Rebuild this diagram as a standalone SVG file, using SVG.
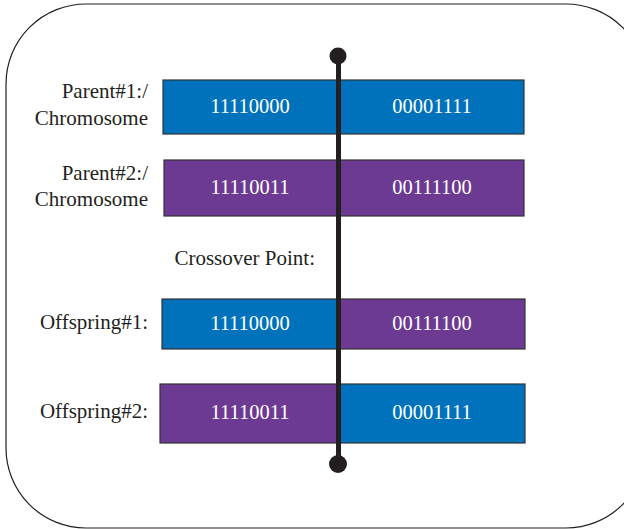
<svg xmlns="http://www.w3.org/2000/svg" width="624" height="529" viewBox="0 0 624 529">
  <style>
    .frame { fill: #ffffff; stroke: #231f20; stroke-width: 1.2; }
    .blue { fill: #0072bc; stroke: #333333; stroke-width: 1.2; }
    .purple { fill: #6d3a93; stroke: #333333; stroke-width: 1.2; }
    .gene { font-family: "Liberation Serif", "DejaVu Serif", serif; font-size: 20.5px; fill: #ffffff; text-anchor: middle; }
    .label { font-family: "Liberation Serif", "DejaVu Serif", serif; font-size: 21px; fill: #231f20; text-anchor: end; }
    .cut { stroke: #231f20; stroke-width: 5; fill: none; }
    .dot { fill: #231f20; }
  </style>

  <!-- outer frame -->
  <rect class="frame" x="6" y="4" width="640" height="524" rx="80" ry="80"/>

  <!-- Parent #1 -->
  <g id="parent1">
    <text class="label" x="148" y="98">Parent#1:/</text>
    <text class="label" x="148" y="125">Chromosome</text>
    <rect class="blue" x="163" y="80" width="361" height="54"/>
    <text class="gene" x="250" y="113">11110000</text>
    <text class="gene" x="432" y="113">00001111</text>
  </g>

  <!-- Parent #2 -->
  <g id="parent2">
    <text class="label" x="148" y="180">Parent#2:/</text>
    <text class="label" x="148" y="206">Chromosome</text>
    <rect class="purple" x="164" y="160" width="360" height="56"/>
    <text class="gene" x="250" y="194">11110011</text>
    <text class="gene" x="432" y="194">00111100</text>
  </g>

  <!-- crossover label -->
  <g id="crossover-label">
    <text class="label" x="315" y="265">Crossover Point:</text>
  </g>

  <!-- Offspring #1 -->
  <g id="offspring1">
    <text class="label" x="148" y="329">Offspring#1:</text>
    <rect class="blue" x="162" y="299" width="177" height="50"/>
    <rect class="purple" x="339" y="299" width="186" height="50"/>
    <text class="gene" x="250" y="330">11110000</text>
    <text class="gene" x="432" y="330">00111100</text>
  </g>

  <!-- Offspring #2 -->
  <g id="offspring2">
    <text class="label" x="148" y="418">Offspring#2:</text>
    <rect class="purple" x="160" y="384" width="179" height="59"/>
    <rect class="blue" x="339" y="384" width="186" height="59"/>
    <text class="gene" x="250" y="419">11110011</text>
    <text class="gene" x="432" y="419">00001111</text>
  </g>

  <!-- crossover cut line -->
  <g id="connectors">
    <line class="cut" x1="338.5" y1="56" x2="338.5" y2="464"/>
    <circle class="dot" cx="338" cy="56" r="8.5"/>
    <circle class="dot" cx="338" cy="464" r="9"/>
  </g>
</svg>
